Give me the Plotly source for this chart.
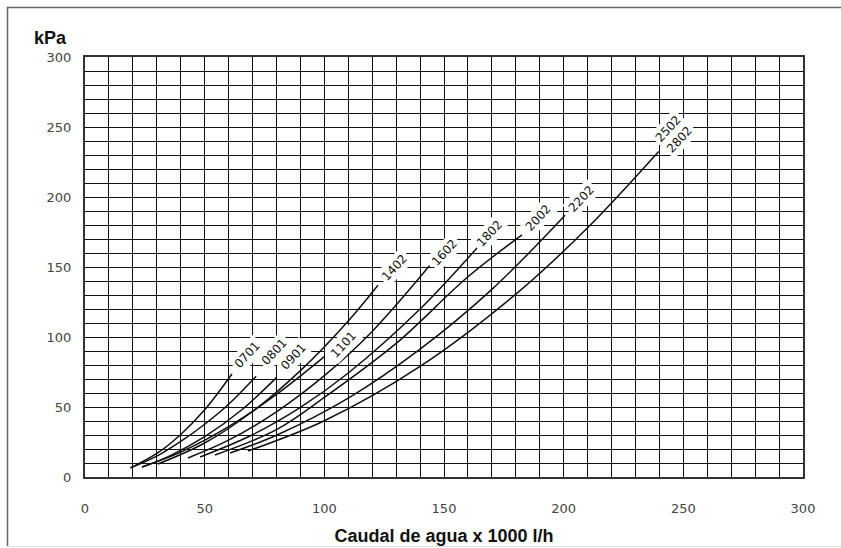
import plotly.graph_objects as go

# Water flow (x 1000 l/h) and pressure drop (kPa)
models = ["0701", "0801", "0901", "1101", "1402", "1602", "1802", "2002", "2202", "2502"]

flow_0701 = [19, 30, 40, 50, 61.4]
dp_0701 = [6.5, 16.8, 30.4, 48, 73.6]

flow_0801 = [19, 30, 40, 50, 60, 71.5]
dp_0801 = [6.5, 14.9, 25.4, 37.7, 52, 72]

flow_0901 = [23.8, 35, 50, 65, 80]
dp_0901 = [7.1, 14.7, 28.8, 47.3, 71]

flow_1101 = [23.8, 40, 60, 80, 100]
dp_1101 = [7.1, 17.8, 36, 59, 86]

flow_1402 = [30.5, 50, 70, 90, 110, 122.4]
dp_1402 = [9.3, 24.3, 46.8, 76, 111.5, 137]

flow_1602 = [43, 60, 80, 100, 120, 144]
dp_1602 = [13.6, 26.3, 46.6, 72.4, 104, 151]

flow_1802 = [48.1, 70, 90, 110, 140, 163.8]
dp_1802 = [14.3, 30.2, 49.7, 74.3, 120, 163.6]

flow_2002 = [54.3, 80, 100, 130, 160, 182.6]
dp_2002 = [15.7, 33.8, 56.8, 95.4, 143, 173]

flow_2202 = [60.6, 80, 110, 140, 170, 200.6]
dp_2202 = [17.1, 29.8, 56.3, 91.3, 134, 187]

flow_2502 = [68.1, 100, 140, 180, 210, 239.7]
dp_2502 = [18.6, 40.2, 79, 130.6, 178, 232.5]

flows = [flow_0701, flow_0801, flow_0901, flow_1101, flow_1402,
         flow_1602, flow_1802, flow_2002, flow_2202, flow_2502]
dps = [dp_0701, dp_0801, dp_0901, dp_1101, dp_1402,
       dp_1602, dp_1802, dp_2002, dp_2202, dp_2502]

# Curve label texts and their anchor points (data units)
label_texts = ["0701", "0801", "0901", "1101", "1402", "1602", "1802", "2002", "2202", "2502", "2802"]
label_x = [67.7, 79.0, 87.3, 108.2, 129.5, 150.4, 169.2, 189.3, 207.3, 243.6, 248.6]
label_y = [87.1, 89.3, 86.4, 95.0, 150.0, 160.7, 174.3, 185.0, 198.6, 248.6, 241.4]

tick_vals = [0, 50, 100, 150, 200, 250, 300]
tick_text = ["0", "50", "100", "150", "200", "250", "300"]

W, H = 841, 548
PL, PR, PT, PB = 85, 803, 57, 477


def px_x(p):
    return (p - PL) / (PR - PL)


def px_y(p):
    return (PB - p) / (PB - PT)


fig = go.Figure()
for name, fx, dy in zip(models, flows, dps):
    fig.add_trace(go.Scatter(
        x=fx, y=dy, mode="lines", name=name,
        line=dict(color="#111111", width=1.5, shape="spline", smoothing=1.0),
        showlegend=False, hoverinfo="skip",
    ))

for t, lx, ly in zip(label_texts, label_x, label_y):
    fig.add_annotation(
        x=lx, y=ly, text=t, showarrow=False, textangle=-47,
        font=dict(family="DejaVu Sans", size=12, color="#111111"),
        bgcolor="white", borderpad=2,
    )

fig.add_annotation(
    xref="paper", yref="paper", x=px_x(50), y=px_y(38),
    text="<b>kPa</b>", showarrow=False, xanchor="center", yanchor="middle",
    font=dict(family="Liberation Sans", size=18, color="#111111"),
)

axis_common = dict(
    range=[0, 300], tickvals=tick_vals, ticktext=tick_text,
    showgrid=True, gridcolor="#111111", gridwidth=1,
    minor=dict(dtick=10, showgrid=True, gridcolor="#111111", gridwidth=1),
    showline=True, linecolor="#333333", linewidth=2, mirror=True,
    zeroline=False, ticks="", automargin=False,
    tickfont=dict(family="DejaVu Sans", size=13, color="#444444"),
    fixedrange=True,
)

fig.update_xaxes(**axis_common, ticklabelstandoff=18,
                 title=dict(text="<b>Caudal de agua x 1000 l/h</b>", standoff=15,
                            font=dict(family="Liberation Sans", size=18, color="#111111")))
fig.update_yaxes(**axis_common, ticklabelstandoff=9)

# outer frame
fig.add_shape(type="line", xref="paper", yref="paper",
              x0=px_x(7), x1=px_x(841), y0=px_y(7.5), y1=px_y(7.5),
              line=dict(color="#666666", width=1.5))
fig.add_shape(type="line", xref="paper", yref="paper",
              x0=px_x(7.5), x1=px_x(7.5), y0=px_y(7), y1=px_y(547),
              line=dict(color="#666666", width=1.5))
fig.add_shape(type="line", xref="paper", yref="paper",
              x0=px_x(7), x1=px_x(841), y0=px_y(546.5), y1=px_y(546.5),
              line=dict(color="#e0e0e0", width=1))

fig.update_layout(
    width=W, height=H,
    margin=dict(l=PL, r=W - PR, t=PT, b=H - PB),
    paper_bgcolor="white", plot_bgcolor="white",
)

fig.write_html(
    "out.html",
    config={"displayModeBar": False},
    post_script=("document.documentElement.style.overflow='hidden';"
                 "document.body.style.margin='0';document.body.style.overflow='hidden';"),
)
